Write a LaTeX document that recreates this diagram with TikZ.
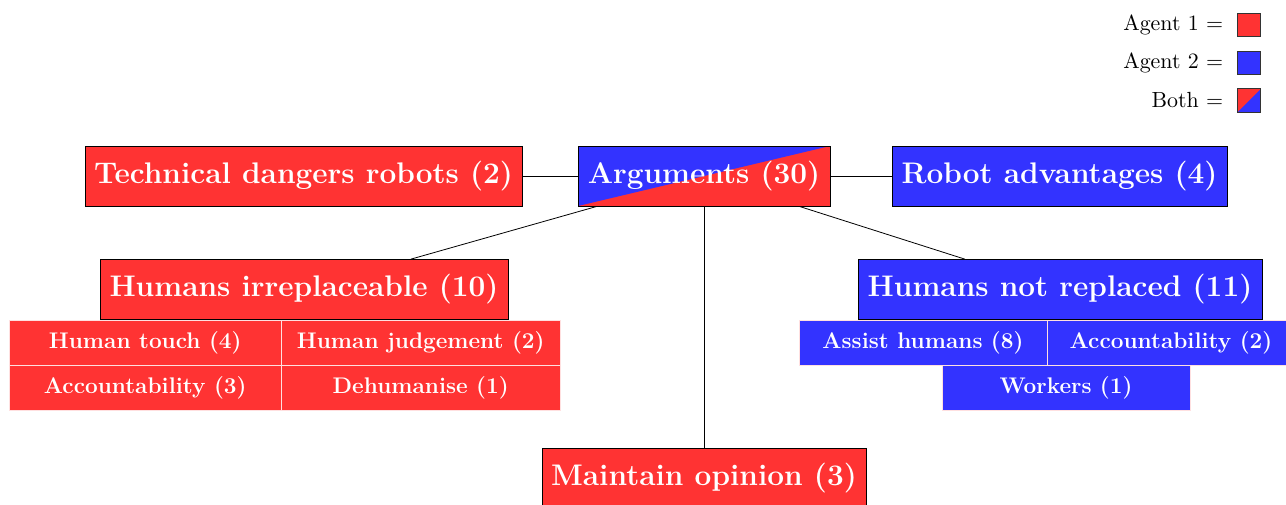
\documentclass[tikz,border=0pt]{standalone}
\definecolor{agentred}{RGB}{255,51,51}
\definecolor{agentblue}{RGB}{51,51,255}
\begin{document}
\begin{tikzpicture}[x=0.5pt,y=-0.5pt,
  mainbox/.style={draw=black, line width=0.4pt, text=white,
    font=\fontsize{14.9}{18}\selectfont\bfseries,
    minimum height=30pt, inner sep=0pt},
  redbox/.style={mainbox, fill=agentred},
  bluebox/.style={mainbox, fill=agentblue},
  subbox/.style={draw=white!85!agentred, line width=0.4pt, text=white,
    font=\fontsize{11.3}{13.6}\selectfont\bfseries,
    minimum height=22.5pt, inner sep=0pt},
  subred/.style={subbox, fill=agentred},
  subblue/.style={subbox, fill=agentblue},
  legtext/.style={anchor=east, inner sep=0pt, font=\fontsize{10.95}{13.6}\selectfont},
  legsq/.style={draw=black!80, line width=0.4pt, minimum width=11.75pt, minimum height=11.75pt, inner sep=0pt},
  link/.style={draw=black, line width=0.4pt}
]
\useasboundingbox (0,0) rectangle (1286,504);

% top row
\node[redbox, minimum width=218.5pt] (tech) at (303.5,176) {Technical dangers robots (2)};
\node[mainbox, fill=agentred, minimum width=126pt,
  path picture={\fill[agentblue] (path picture bounding box.south west) --
    (path picture bounding box.north east) -- (path picture bounding box.north west) -- cycle;}]
  (args) at (704,176) {Arguments (30)};
\node[bluebox, minimum width=167.5pt] (robot) at (1059.5,176) {Robot advantages (4)};

% second level
\node[redbox, minimum width=204pt] (hi) at (304,289.5) {Humans irreplaceable (10)};
\node[bluebox, minimum width=202pt] (hnr) at (1060,289.5) {Humans not replaced (11)};
\node[redbox, minimum width=162pt] (mo) at (704,478) {Maintain opinion (3)};

% sub-categories of "Humans irreplaceable"
\node[subred, minimum width=135.75pt] (touch) at (145.25,343) {Human touch (4)};
\node[subred, minimum width=139.75pt] (judge) at (420.75,343) {Human judgement (2)};
\node[subred, minimum width=135.75pt] (accl) at (145.25,387.5) {Accountability (3)};
\node[subred, minimum width=139.75pt] (dehum) at (420.75,387.5) {Dehumanise (1)};

% sub-categories of "Humans not replaced"
\node[subblue, minimum width=124pt] (assist) at (923,343) {Assist humans (8)};
\node[subblue, minimum width=124pt] (accr) at (1171,343) {Accountability (2)};
\node[subblue, minimum width=124pt] (work) at (1066,387.5) {Workers (1)};

% connectors
\draw[link] (tech) -- (args);
\draw[link] (args) -- (robot);
\draw[link] (args) -- (hi);
\draw[link] (args) -- (hnr);
\draw[link] (args) -- (mo);

% legend
\node[legsq, fill=agentred] (sq1) at (1249,24.7) {};
\node[legsq, fill=agentblue] (sq2) at (1249,63) {};
\node[legsq, fill=agentblue,
  path picture={\fill[agentred] (path picture bounding box.south west) --
    (path picture bounding box.north east) -- (path picture bounding box.north west) -- cycle;}]
  (sq3) at (1249,100.5) {};
\node[legtext] (l1) at (1223.5,24.7) {Agent 1 $=$};
\node[legtext] (l2) at (1223.5,63) {Agent 2 $=$};
\node[legtext] (l3) at (1223.5,100.5) {Both $=$};
\end{tikzpicture}
\end{document}
